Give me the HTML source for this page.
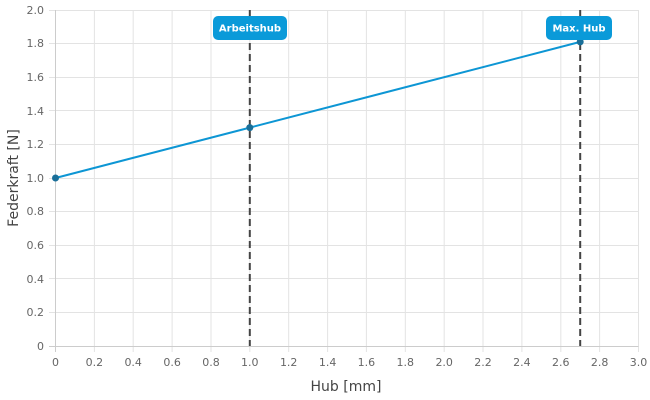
<!DOCTYPE html><html><head><style>body{margin:0;background:#fff}svg{display:block;font-family:"DejaVu Sans","Liberation Sans",sans-serif}</style></head><body>
<svg width="650" height="400" xmlns="http://www.w3.org/2000/svg">
<g stroke="#e3e3e3" stroke-width="1">
<line x1="55.5" y1="10" x2="55.5" y2="352"/><line x1="94.4" y1="10" x2="94.4" y2="352"/><line x1="133.2" y1="10" x2="133.2" y2="352"/><line x1="172.1" y1="10" x2="172.1" y2="352"/><line x1="211" y1="10" x2="211" y2="352"/><line x1="249.8" y1="10" x2="249.8" y2="352"/><line x1="288.7" y1="10" x2="288.7" y2="352"/><line x1="327.6" y1="10" x2="327.6" y2="352"/><line x1="366.4" y1="10" x2="366.4" y2="352"/><line x1="405.3" y1="10" x2="405.3" y2="352"/><line x1="444.2" y1="10" x2="444.2" y2="352"/><line x1="483" y1="10" x2="483" y2="352"/><line x1="521.9" y1="10" x2="521.9" y2="352"/><line x1="560.8" y1="10" x2="560.8" y2="352"/><line x1="599.6" y1="10" x2="599.6" y2="352"/><line x1="638.5" y1="10" x2="638.5" y2="352"/>
<line x1="49" y1="10.5" x2="638.5" y2="10.5"/><line x1="49" y1="43.5" x2="638.5" y2="43.5"/><line x1="49" y1="77.5" x2="638.5" y2="77.5"/><line x1="49" y1="110.5" x2="638.5" y2="110.5"/><line x1="49" y1="144.5" x2="638.5" y2="144.5"/><line x1="49" y1="178.5" x2="638.5" y2="178.5"/><line x1="49" y1="211.5" x2="638.5" y2="211.5"/><line x1="49" y1="245.5" x2="638.5" y2="245.5"/><line x1="49" y1="278.5" x2="638.5" y2="278.5"/><line x1="49" y1="312.5" x2="638.5" y2="312.5"/>
</g>
<line x1="49" y1="346.5" x2="638.5" y2="346.5" stroke="#ccc"/>
<line x1="55.5" y1="10" x2="55.5" y2="352" stroke="#ccc"/>
<g font-size="11" fill="#666" text-anchor="end">
<text x="44" y="14">2.0</text><text x="44" y="47">1.8</text><text x="44" y="81">1.6</text><text x="44" y="115">1.4</text><text x="44" y="148">1.2</text><text x="44" y="182">1.0</text><text x="44" y="215">0.8</text><text x="44" y="249">0.6</text><text x="44" y="283">0.4</text><text x="44" y="316">0.2</text><text x="44" y="350">0</text>
</g>
<g font-size="11" fill="#666" text-anchor="middle">
<text x="55.5" y="366">0</text><text x="94.4" y="366">0.2</text><text x="133.2" y="366">0.4</text><text x="172.1" y="366">0.6</text><text x="211" y="366">0.8</text><text x="249.8" y="366">1.0</text><text x="288.7" y="366">1.2</text><text x="327.6" y="366">1.4</text><text x="366.4" y="366">1.6</text><text x="405.3" y="366">1.8</text><text x="444.2" y="366">2.0</text><text x="483" y="366">2.2</text><text x="521.9" y="366">2.4</text><text x="560.8" y="366">2.6</text><text x="599.6" y="366">2.8</text><text x="638.5" y="366">3.0</text>
</g>
<text x="346" y="391" font-size="14" fill="#444" text-anchor="middle">Hub [mm]</text>
<text transform="translate(18,178) rotate(-90)" font-size="14" fill="#444" text-anchor="middle">Federkraft [N]</text>
<g stroke="#444" stroke-width="2" stroke-dasharray="7,4">
<line x1="249.8" y1="10" x2="249.8" y2="346"/><line x1="580.2" y1="10" x2="580.2" y2="346"/>
</g>
<polyline points="55.5,178 249.8,127.6 580.2,41.9" fill="none" stroke="#0d96d4" stroke-width="2"/>
<g fill="#1a6f99"><circle cx="55.5" cy="178" r="3.5"/><circle cx="249.8" cy="127.6" r="3.5"/><circle cx="580.2" cy="41.9" r="3.5"/></g>
<rect x="213" y="16" width="74" height="24" rx="5" fill="#0a9ad9"/>
<text x="250" y="31.5" font-size="10" font-weight="bold" fill="#fff" text-anchor="middle">Arbeitshub</text>
<rect x="546" y="16" width="66" height="24" rx="5" fill="#0a9ad9"/>
<text x="579" y="31.5" font-size="10" font-weight="bold" fill="#fff" text-anchor="middle">Max. Hub</text>
</svg></body></html>
